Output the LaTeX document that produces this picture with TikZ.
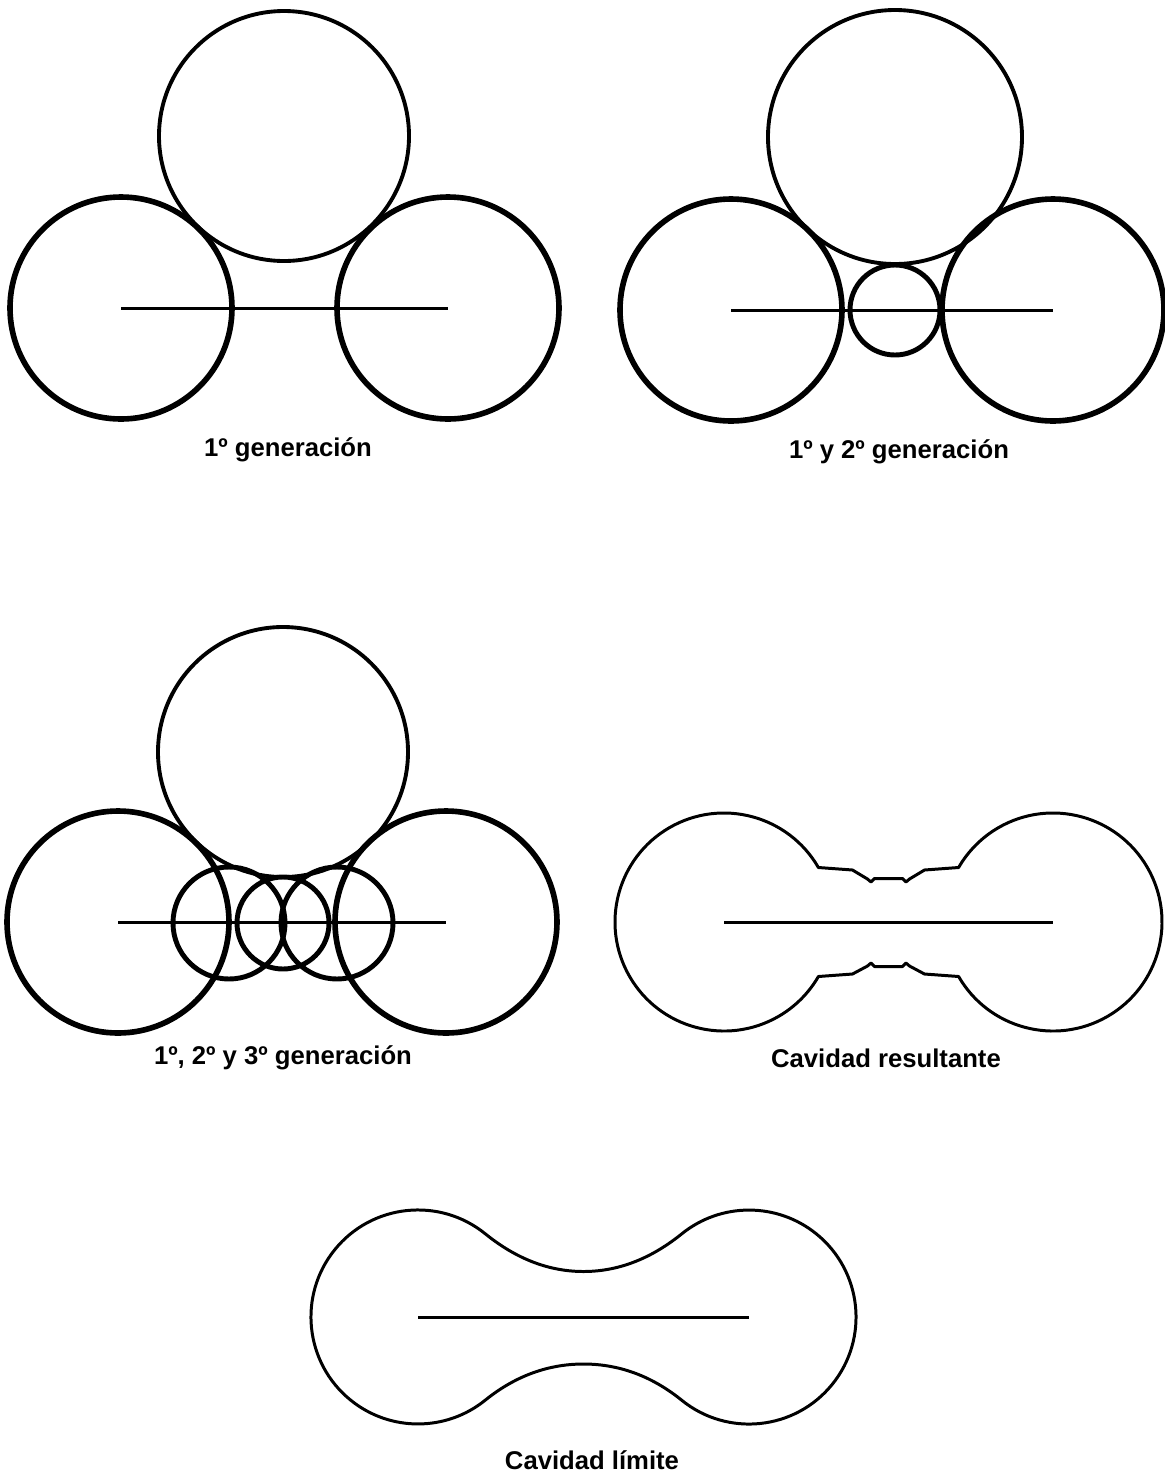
\documentclass[tikz,border=0pt]{standalone}
\usepackage{fontspec}
\setmainfont{Liberation Sans}
\usetikzlibrary{positioning}

\begin{document}
\begin{tikzpicture}[
    x=0.01cm, y=-0.01cm,
    bigcirc/.style={line width=1.6pt},
    topcirc/.style={line width=1.1pt},
    smallcirc/.style={line width=1.4pt},
    axisline/.style={line width=0.85pt},
    cavity/.style={line width=0.85pt, line join=round},
    caption/.style={font=\fontsize{7.3pt}{9pt}\selectfont\bfseries, inner sep=0pt}
]
\useasboundingbox (0,0) rectangle (1165,1478);

% 1a generacion
\coordinate (aL) at (121,308);
\coordinate (aR) at (448,308);
\coordinate (aT) at (284,136);
\draw[bigcirc] (aL) circle[radius=111];
\draw[bigcirc] (aR) circle[radius=111];
\draw[topcirc] (aT) circle[radius=125];
\draw[axisline] (aL) -- (aR);
\node[caption] (capA) at (288,450) {1º generación};

% 1a y 2a generacion
\coordinate (bL) at (731,310);
\coordinate (bR) at (1053,310);
\coordinate (bT) at (895,137);
\coordinate (bM) at (895,310);
\draw[bigcirc] (bL) circle[radius=111];
\draw[bigcirc] (bR) circle[radius=111];
\draw[topcirc] (bT) circle[radius=127];
\draw[smallcirc] (bM) circle[radius=45];
\draw[axisline] (bL) -- (bR);
\node[caption] (capB) at (899,452) {1º y 2º generación};

% 1a, 2a y 3a generacion
\coordinate (cL) at (118,922);
\coordinate (cR) at (446,922);
\coordinate (cT) at (283,752);
\draw[bigcirc] (cL) circle[radius=111];
\draw[bigcirc] (cR) circle[radius=111];
\draw[topcirc] (cT) circle[radius=125];
\draw[smallcirc] (283,923) circle[radius=46];
\draw[smallcirc] (229,923) circle[radius=56];
\draw[smallcirc] (337,923) circle[radius=56];
\draw[axisline] (cL) -- (cR);
\node[caption] (capC) at (283,1058) {1º, 2º y 3º generación};

% cavidad resultante
\coordinate (dL) at (724,922);
\coordinate (dR) at (1053,922);
\draw[cavity] (818.4,867.5) arc[start angle=-30, end angle=-330, radius=109]
    -- (852.5,974) -- (867.5,966) -- (871,963) -- (874.5,966.5)
    -- (902.5,966.5) -- (906,963) -- (909.5,966) -- (924.5,974)
    -- (958.6,976.5) arc[start angle=150, end angle=-150, radius=109]
    -- (924.5,870) -- (909.5,879) -- (906,882) -- (902.5,878.5)
    -- (874.5,878.5) -- (871,882) -- (867.5,879) -- (852.5,870) -- cycle;
\draw[axisline] (dL) -- (dR);
\node[caption] (capD) at (886,1058) {Cavidad resultante};

% cavidad limite
\coordinate (eL) at (418,1317);
\coordinate (eR) at (749,1317);
\draw[cavity] (485.3,1233.8) arc[start angle=-51, end angle=-309, radius=107]
    .. controls (512.5,1378.2) and (545,1364) .. (583.5,1364)
    .. controls (622,1364) and (654.5,1378.2) .. (681.7,1400.2)
    arc[start angle=129, end angle=-129, radius=107]
    .. controls (654.5,1255.8) and (622,1271.5) .. (583.5,1271.5)
    .. controls (545,1271.5) and (512.5,1255.8) .. cycle;
\draw[axisline] (eL) -- (eR);
\node[caption] (capE) at (592,1460) {Cavidad límite};
\end{tikzpicture}
\end{document}
